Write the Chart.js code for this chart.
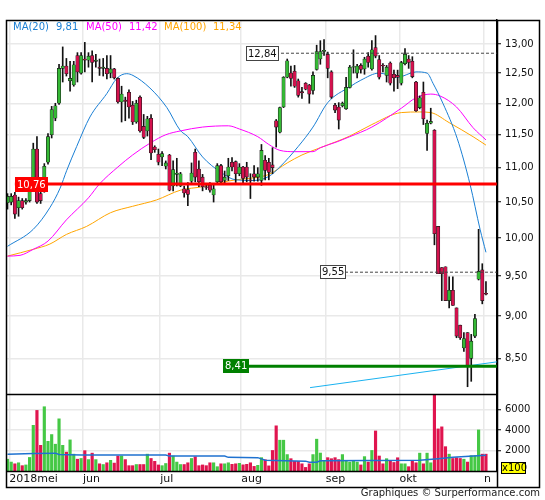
<!DOCTYPE html>
<html lang="nl">
<head>
<meta charset="UTF-8">
<title>Koers</title>
<script src="https://cdn.jsdelivr.net/npm/chart.js"></script>
<style>
  body { margin: 0; background: #fff; }
  #wrap { position: relative; width: 545px; height: 500px; }
</style>
</head>
<body>
<div id="wrap"><canvas id="koers" width="545" height="500"></canvas></div>
<script>
// daily candles, trading day index 0 = 2 mei 2018
const opens = [10.49,10.50,10.60,10.42,10.52,10.50,10.52,10.70,11.28,10.62,10.66,11.08,11.50,11.76,12.00,12.58,12.62,12.37,12.30,12.80,
  12.50,12.74,12.72,12.80,12.70,12.60,12.58,12.58,12.50,12.57,12.41,12.02,12.05,12.18,11.97,11.70,12.10,11.63,11.56,11.76,
  11.31,11.20,11.16,11.02,11.19,10.73,10.90,10.73,10.69,10.68,10.80,11.23,10.98,10.86,10.72,10.74,10.60,10.79,11.03,10.81,
  10.88,11.08,11.09,10.91,11.01,11.01,10.82,10.91,10.86,10.81,11.11,11.08,11.04,11.72,11.54,11.94,12.43,12.50,12.53,12.37,
  12.19,12.33,12.30,12.21,12.56,12.74,12.87,12.82,12.52,11.97,11.94,11.96,11.91,12.26,12.60,12.50,12.63,12.57,12.79,12.57,
  12.94,12.73,12.63,12.46,12.67,12.48,12.46,12.33,12.66,12.74,12.70,12.35,11.93,12.18,11.52,11.68,11.57,10.16,9.61,9.62,
  9.19,9.32,9.10,8.89,8.62,8.80,8.50,8.76,9.46,9.58,9.28];
const highs = [10.62,10.62,10.64,10.57,10.55,10.55,10.70,11.37,11.47,10.68,11.06,11.52,11.95,12.00,12.65,12.95,12.75,12.70,12.70,12.85,
  12.85,13.03,12.85,12.88,12.82,12.74,12.75,12.80,12.80,12.58,12.42,12.28,12.10,12.22,12.03,12.05,12.12,11.82,11.79,11.82,
  11.33,11.28,11.24,11.10,11.20,11.10,11.14,10.93,10.73,10.78,11.07,11.28,11.10,10.90,10.76,10.78,10.74,11.06,11.05,10.95,
  11.14,11.15,11.10,11.06,11.02,11.08,10.91,11.03,11.00,11.35,11.18,11.14,11.30,11.74,11.94,12.44,12.74,12.62,12.63,12.40,
  12.26,12.34,12.31,12.52,12.98,13.06,13.08,12.86,12.54,12.00,12.01,12.02,12.43,12.63,12.90,12.65,12.66,12.77,12.85,13.06,
  13.15,12.80,12.66,12.63,12.69,12.55,12.55,12.70,12.92,12.80,12.78,12.36,12.12,12.35,11.73,11.92,11.58,10.16,9.61,9.62,
  9.49,9.49,9.10,8.89,8.80,8.80,8.78,9.02,10.12,9.66,9.43];
const lows = [10.40,10.46,10.27,10.30,10.40,10.47,10.50,10.66,10.48,10.48,10.64,11.05,11.45,11.72,11.98,12.35,12.45,12.20,12.28,12.35,
  12.48,12.52,12.60,12.35,12.60,12.46,12.45,12.40,12.42,12.40,12.00,11.70,11.72,11.76,11.66,11.68,11.54,11.44,11.48,11.12,
  11.23,11.04,11.03,10.98,10.66,10.66,10.73,10.72,10.57,10.45,10.78,10.79,10.72,10.66,10.68,10.64,10.50,10.76,10.75,10.75,
  10.81,10.95,10.78,10.88,10.77,10.79,10.55,10.80,10.80,10.74,10.82,10.82,10.91,11.31,11.53,11.93,12.42,12.28,12.26,12.10,
  12.08,12.22,12.00,12.15,12.55,12.65,12.80,12.42,12.08,11.85,11.59,11.94,11.90,12.25,12.50,12.42,12.50,12.48,12.60,12.55,
  12.76,12.40,12.52,12.35,12.30,12.20,12.24,12.30,12.64,12.58,12.42,11.87,11.91,11.66,11.26,11.67,9.91,9.53,9.19,9.19,
  9.10,9.13,8.74,8.72,8.58,8.18,8.24,8.74,9.45,9.15,9.26];
const closes = [10.58,10.58,10.33,10.52,10.42,10.52,10.66,11.28,10.50,10.52,11.02,11.47,11.90,11.96,12.58,12.62,12.49,12.41,12.64,12.52,
  12.80,12.72,12.79,12.68,12.72,12.58,12.60,12.49,12.57,12.42,12.02,12.15,12.03,11.94,11.70,12.00,11.56,11.46,11.75,11.22,
  11.27,11.08,11.21,11.07,10.67,10.97,10.92,10.91,10.63,10.61,10.92,10.86,10.79,10.72,10.71,10.67,10.69,11.03,10.79,10.86,
  11.01,11.01,10.91,11.01,10.84,10.86,10.81,10.86,10.91,11.26,10.96,10.93,11.00,11.62,11.93,12.43,12.71,12.41,12.28,12.13,
  12.17,12.23,12.15,12.46,12.87,12.87,12.89,12.58,12.10,11.89,11.73,12.00,12.26,12.60,12.61,12.62,12.56,12.74,12.68,12.90,
  12.79,12.43,12.62,12.60,12.33,12.42,12.43,12.68,12.82,12.68,12.44,11.88,12.09,11.75,11.68,11.71,10.06,9.53,9.53,9.19,
  9.32,9.13,8.76,8.74,8.73,8.42,8.70,8.97,9.56,9.19,9.27];
// volume in units of 100
const volumes = [1150,870,700,800,520,590,1320,4450,5900,2500,6260,2890,3550,2610,5080,2500,1840,3030,1640,1150,
  1220,1980,1110,1740,1110,700,630,800,1040,770,1460,1460,1110,520,520,630,630,630,1640,1220,
  940,590,520,730,1740,1460,870,630,630,800,1220,1390,520,590,520,800,800,420,700,700,
  800,650,700,750,600,650,800,450,550,1300,1100,500,2000,4400,3000,3000,1600,1200,940,940,
  700,350,700,1600,3100,1750,940,1300,1200,1300,1110,1600,940,870,940,870,590,1400,870,2000,
  3900,1460,700,1200,1040,830,1290,700,700,420,940,800,1740,700,1740,800,7400,4100,4300,2370,
  1640,1220,1290,1220,1150,870,1500,1500,4000,1640,1640];
// moving averages: [day index, value]
const ma20 = [[0,9.89],[7,10.12],[11.5,10.42],[14.3,10.70],[16.1,10.96],[18.8,11.32],[22.4,11.78],[27,12.16],[29.7,12.41],[32.4,12.49],
  [34.1,12.46],[38.7,12.25],[43.3,11.93],[46.9,11.57],[49,11.47],[53,11.16],[58,10.93],[62,10.82],[67,10.81],[71,10.87],
  [74,11.01],[79,11.32],[83,11.62],[87,12.01],[93,12.27],[96,12.38],[101,12.50],[106,12.43],[111,12.52],[114,12.50],
  [115.6,12.33],[118.3,12.00],[122.2,11.44],[125.7,10.75],[128.4,10.12],[130,9.81]];
const ma50 = [[0,9.76],[3.4,9.77],[7,9.85],[11,9.96],[16,10.25],[22,10.56],[25,10.76],[30,11.01],[34,11.19],[39,11.38],
  [43,11.50],[47,11.56],[53,11.62],[60,11.64],[63,11.59],[68,11.47],[71,11.35],[74,11.26],[78,11.24],[83,11.24],
  [85,11.30],[89.5,11.39],[93,11.47],[99,11.62],[107,11.92],[111,12.09],[115,12.15],[117.5,12.12],[122,11.94],[126.5,11.61],[130,11.42]];
const ma100 = [[0,9.76],[7,9.85],[11.5,9.92],[16,10.05],[21.5,10.16],[28,10.35],[34,10.44],[40.5,10.53],[47,10.67],[53,10.72],
  [58,10.78],[62,10.82],[67,10.85],[71,10.90],[76,11.07],[80,11.19],[85,11.30],[93,11.48],[99,11.66],[107,11.85],
  [112,11.86],[115,11.85],[120,11.69],[126.5,11.47],[130,11.34]];
const volumeAvg = [[0,1640],[7,1700],[13,1740],[14,1600],[20,1550],[43,1550],[44,1450],[59,1450],[60,1330],[68,1300],
  [70,1050],[81,960],[82,860],[84,860],[85,1000],[112,1050],[117,1200],[121,1350],[130,1530]];
const trendLine = [[82.2,8.17],[133,8.46]];
// marked price levels and the day index where their tag sits
const levelValues = [10.76, 8.41, 12.84, 9.55];
const levelStarts = [2, 58.6, 64.8, 84.9];
const priceTicks = [8.5, 9, 9.5, 10, 10.5, 11, 11.5, 12, 12.5, 13];
const volumeTicks = [2000, 4000, 6000];
const monthTicks = [0.5, 20.5, 41.5, 63.5, 86.5, 106.5, 129.5];
const monthLabels = ['2018mei', 'jun', 'jul', 'aug', 'sep', 'okt', 'n'];

Chart.defaults.font.family = '"DejaVu Sans", Verdana, sans-serif';
Chart.defaults.color = '#111';

const fmt = v => v.toFixed(2).replace('.', ',');
const xMin = -0.41, xMax = 133;
const upColor = '#35b935', downColor = '#d4124e';
const candleColors = closes.map((c, i) => c >= opens[i] ? upColor : downColor);
const volColors = closes.map((c, i) => c >= opens[i] ? '#45c845' : '#e0154f');
const pts = arr => arr.map(([x, y]) => ({x, y}));

const levelStyles = [
  {line: '#ff0000', width: 3, dash: [], fill: '#ff0000', text: '#fff', stroke: null, h: 15},
  {line: '#008000', width: 3, dash: [], fill: '#008000', text: '#fff', stroke: null, h: 14},
  {line: '#444', width: 1, dash: [3, 2], fill: '#fff', text: '#111', stroke: '#444', h: 15},
  {line: '#444', width: 1, dash: [3, 2], fill: '#fff', text: '#111', stroke: '#444', h: 14}
];

const maLine = (data, color) => ({
  type: 'line', data: pts(data), borderColor: color, borderWidth: 1,
  pointRadius: 0, cubicInterpolationMode: 'monotone', yAxisID: 'y'
});

const levelSets = levelValues.map((val, k) => ({
  type: 'line',
  data: [{x: levelStarts[k], y: val}, {x: xMax, y: val}],
  borderColor: levelStyles[k].line, borderWidth: levelStyles[k].width,
  borderDash: levelStyles[k].dash, pointRadius: 0, yAxisID: 'y'
}));

const overlay = {
  id: 'overlay',
  afterDatasetsDraw(chart) {
    const {ctx, scales: {x, y}} = chart;
    ctx.save();
    ctx.font = '10px "DejaVu Sans"';
    ctx.textBaseline = 'middle';
    levelValues.forEach((val, k) => {
      const st = levelStyles[k];
      const px = Math.round(x.getPixelForValue(levelStarts[k]));
      const py = Math.round(y.getPixelForValue(val));
      const txt = fmt(val);
      const w = Math.round(ctx.measureText(txt).width) + 4;
      const top = py - Math.floor(st.h / 2);
      ctx.fillStyle = st.fill;
      ctx.fillRect(px, top, w, st.h);
      if (st.stroke) {
        ctx.strokeStyle = st.stroke;
        ctx.lineWidth = 1;
        ctx.strokeRect(px + 0.5, top + 0.5, w - 1, st.h - 1);
      }
      ctx.fillStyle = st.text;
      ctx.fillText(txt, px + 2, top + st.h / 2 + 0.5);
    });
    // moving average legend
    const legend = [
      ['MA(20)', ma20, '#1a7fd4', 13, 56],
      ['MA(50)', ma50, '#ff00ff', 86, 129],
      ['MA(100)', ma100, '#ffa500', 164, 213]
    ];
    legend.forEach(([name, arr, color, x1, x2]) => {
      ctx.fillStyle = color;
      ctx.fillText(name, x1, 27);
      ctx.fillText(fmt(arr[arr.length - 1][1]), x2, 27);
    });
    ctx.restore();
  },
  afterDraw(chart) {
    const {ctx, chartArea: a, scales: {y}} = chart;
    ctx.save();
    ctx.strokeStyle = '#000';
    ctx.lineWidth = 1.5;
    ctx.strokeRect(a.left + 0.5, a.top + 0.5, 539 - a.left, 487 - a.top);
    ctx.beginPath();
    ctx.moveTo(a.right + 0.5, a.top); ctx.lineTo(a.right + 0.5, 487);
    ctx.moveTo(a.left, y.bottom + 0.5); ctx.lineTo(a.right, y.bottom + 0.5);
    ctx.moveTo(a.left, a.bottom + 0.5); ctx.lineTo(a.right, a.bottom + 0.5);
    ctx.stroke();
    // x100 tag
    ctx.fillStyle = '#ffff00';
    ctx.fillRect(a.right + 4, 462, 25, 12);
    ctx.lineWidth = 1;
    ctx.strokeRect(a.right + 4.5, 462.5, 24, 11);
    ctx.fillStyle = '#000';
    ctx.font = '10px "DejaVu Sans"';
    ctx.textBaseline = 'middle';
    ctx.fillText('x100', a.right + 5, 468.5);
    ctx.fillStyle = '#222';
    ctx.textAlign = 'right';
    ctx.fillText('Graphiques \u00a9 Surperformance.com', 540, 493);
    ctx.restore();
  }
};

new Chart(document.getElementById('koers'), {
  type: 'bar',
  data: {
    datasets: [
      ...levelSets,
      {
        data: opens.map((o, i) => ({x: i, y: [o, closes[i]]})),
        backgroundColor: candleColors, borderColor: '#1a1a1a', borderWidth: 0.6,
        borderSkipped: false, barThickness: 3.4, grouped: false, yAxisID: 'y'
      },
      {
        data: lows.map((l, i) => ({x: i, y: [l, highs[i]]})),
        backgroundColor: '#111', borderWidth: 0, barThickness: 1, grouped: false, yAxisID: 'y'
      },
      maLine(ma20, '#1a7fd4'),
      maLine(ma50, '#ff00ff'),
      maLine(ma100, '#ffa500'),
      {
        type: 'line', data: pts(trendLine), borderColor: '#1ab2f0', borderWidth: 1,
        pointRadius: 0, yAxisID: 'y'
      },
      {
        type: 'line', data: pts(volumeAvg), borderColor: '#1f72d0', borderWidth: 1.5,
        pointRadius: 0, yAxisID: 'v'
      },
      {
        data: volumes.map((v, i) => ({x: i, y: v})),
        backgroundColor: volColors, borderWidth: 0, barThickness: 2.5, grouped: false, yAxisID: 'v'
      }
    ]
  },
  options: {
    responsive: false,
    animation: false,
    layout: {padding: {left: 6, top: 20, right: 0, bottom: 0}},
    plugins: {legend: {display: false}, tooltip: {enabled: false}},
    scales: {
      x: {
        type: 'linear', min: xMin, max: xMax, offset: false,
        grid: {offset: false, color: '#e9e9e9', lineWidth: 1.5, drawTicks: false},
        border: {display: false},
        ticks: {
          autoSkip: false, maxRotation: 0, align: 'start', padding: 2,
          font: {size: 11}, color: '#111',
          callback: (v, i) => monthLabels[i]
        },
        afterBuildTicks: s => { s.ticks = monthTicks.map(value => ({value})); },
        afterFit: s => { s.height = 29; }
      },
      y: {
        type: 'logarithmic', position: 'right', stack: 'panels', stackWeight: 374,
        min: 8.11, max: 13.43,
        grid: {color: '#e9e9e9', lineWidth: 1.5, tickLength: 4, tickColor: '#000', tickWidth: 1},
        border: {display: true, color: '#000', width: 1.5},
        ticks: {autoSkip: false, padding: 4, font: {size: 10}, color: '#111', callback: v => fmt(v)},
        afterBuildTicks: s => { s.ticks = priceTicks.map(value => ({value})); },
        afterFit: s => { s.width = 48; }
      },
      v: {
        type: 'linear', position: 'right', stack: 'panels', stackWeight: 77,
        min: 0, max: 7500,
        grid: {color: '#e9e9e9', lineWidth: 1.5, tickLength: 4, tickColor: '#000', tickWidth: 1},
        border: {display: true, color: '#000', width: 1.5},
        ticks: {autoSkip: false, padding: 4, font: {size: 10}, color: '#111', callback: v => String(v)},
        afterBuildTicks: s => { s.ticks = volumeTicks.map(value => ({value})); },
        afterFit: s => { s.width = 48; }
      }
    }
  },
  plugins: [overlay]
});
</script>
</body>
</html>
